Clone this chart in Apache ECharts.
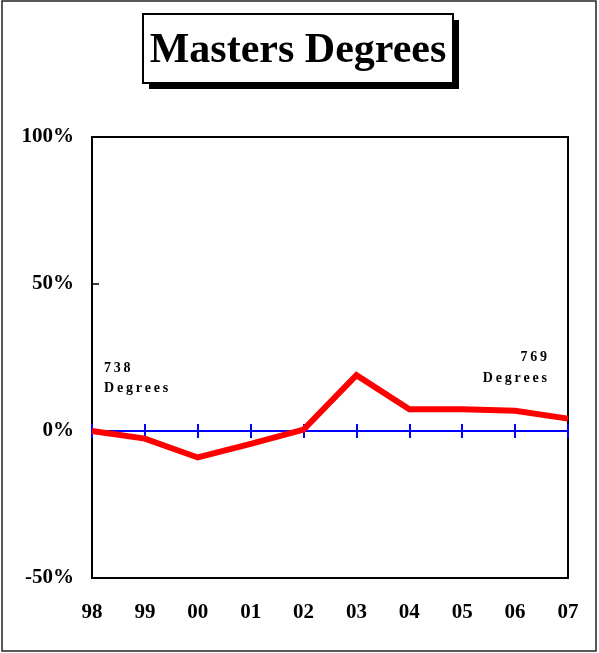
<!DOCTYPE html>
<html>
<head>
<meta charset="utf-8">
<script src="https://cdn.jsdelivr.net/npm/echarts@6/dist/echarts.min.js"></script>
<style>
  html, body { margin: 0; padding: 0; background: #fff; }
  #chart { width: 599px; height: 653px; }
</style>
</head>
<body>
<div id="chart"></div>
<script>
  // data
  const years = ['98', '99', '00', '01', '02', '03', '04', '05', '06', '07']
  const pctChange = [0, -2.6, -9.0, -4.4, 0.5, 19.0, 7.4, 7.4, 6.9, 4.2]
  const yMin = -50
  const yMax = 100
  const yStep = 50
  const titleText = 'Masters Degrees'
  const startCount = '738'
  const endCount = '769'
  const unitWord = 'Degrees'

  const serif = '"Liberation Serif", "Times New Roman", serif'
  const thin = '\u2009'
  const spaced = (s) => s.split('').join(thin) // the little notes are letter-spaced

  const chart = echarts.init(document.getElementById('chart'))

  // blue zero line, ticks drawn on both sides
  const zeroAxis = (inside) => ({
    type: 'category',
    data: years,
    boundaryGap: false,
    position: 'bottom',
    axisLine: { show: true, onZero: true, onZeroAxisIndex: 0, lineStyle: { color: '#0000ff', width: 2 } },
    axisTick: { show: true, inside: inside, length: 7, lineStyle: { color: '#0000ff', width: 2 } },
    axisLabel: { show: false },
    splitLine: { show: false }
  })

  const noteStyle = (text, align) => ({
    text: text, font: 'bold 14px ' + serif, fill: '#000', align: align, verticalAlign: 'top'
  })

  const option = {
    animation: false,
    backgroundColor: '#fff',
    grid: {
      left: 92, right: 31, top: 137, bottom: 75,
      show: true, borderColor: '#000', borderWidth: 2, backgroundColor: 'transparent'
    },
    xAxis: [
      zeroAxis(false),
      zeroAxis(true),
      {
        type: 'category',
        data: years,
        boundaryGap: false,
        position: 'bottom',
        axisLine: { show: false, onZero: false },
        axisTick: { show: false },
        axisLabel: { margin: 24, fontFamily: serif, fontWeight: 'bold', fontSize: 21, color: '#000' }
      }
    ],
    yAxis: {
      type: 'value',
      min: yMin,
      max: yMax,
      interval: yStep,
      axisLine: { show: true, lineStyle: { color: '#000', width: 2 } },
      axisTick: { show: true, inside: true, length: 7, lineStyle: { color: '#000', width: 1.5 } },
      splitLine: { show: false },
      axisLabel: {
        margin: 18,
        formatter: '{value}%',
        fontFamily: serif, fontWeight: 'bold', fontSize: 21, color: '#000'
      }
    },
    series: [{
      type: 'line',
      data: pctChange,
      xAxisIndex: 0,
      symbol: 'none',
      lineStyle: { color: '#ff0000', width: 6, join: 'miter' },
      z: 5
    }],
    graphic: [
      {
        type: 'rect', silent: true,
        shape: { x: 2, y: 1, width: 594, height: 650 },
        style: { fill: 'none', stroke: '#222', lineWidth: 1.5 }
      },
      // title box with hard drop shadow
      {
        type: 'rect', silent: true,
        shape: { x: 149, y: 20, width: 310, height: 69 },
        style: { fill: '#000' }
      },
      {
        type: 'rect', silent: true,
        shape: { x: 143, y: 14, width: 310, height: 69 },
        style: { fill: '#fff', stroke: '#000', lineWidth: 2 }
      },
      {
        type: 'text', silent: true, x: 298, y: 51,
        style: { text: titleText, font: 'bold 42px ' + serif, fill: '#000', align: 'center', verticalAlign: 'middle' }
      },
      { type: 'text', x: 104, y: 361, style: noteStyle(spaced(startCount), 'left') },
      { type: 'text', x: 104, y: 381, style: noteStyle(spaced(unitWord), 'left') },
      { type: 'text', x: 547, y: 350, style: noteStyle(spaced(endCount), 'right') },
      { type: 'text', x: 547, y: 371, style: noteStyle(spaced(unitWord), 'right') }
    ]
  }

  chart.setOption(option)
</script>
</body>
</html>
